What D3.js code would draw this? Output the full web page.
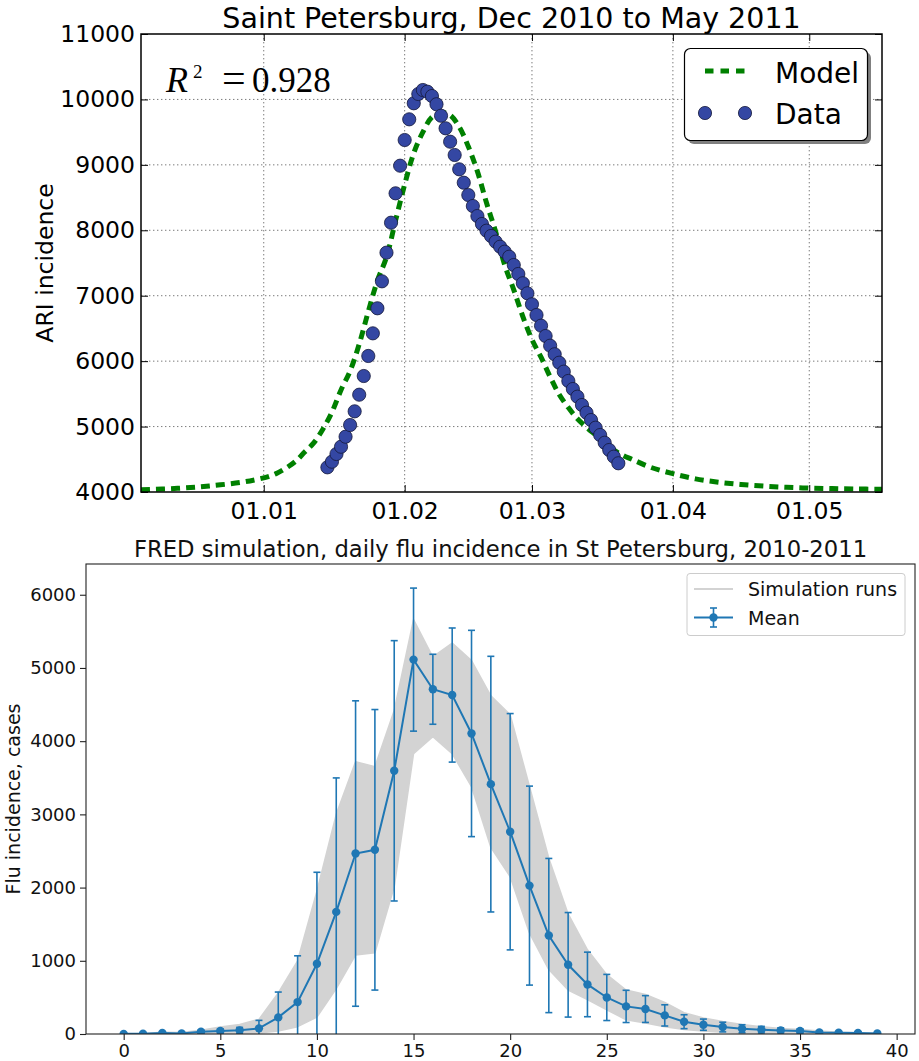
<!DOCTYPE html>
<html>
<head>
<meta charset="utf-8">
<script src="https://cdn.jsdelivr.net/npm/d3@7"></script>
<style>
  body { margin: 0; background: #fff; }
  svg text { font-family: "DejaVu Sans", sans-serif; }
  svg text.tex { font-family: "Liberation Serif", "DejaVu Serif", serif; }
</style>
</head>
<body>
<svg id="chart" width="919" height="1061"></svg>
<script>
//////////////// top panel: ARI incidence, St Petersburg ////////////////

var modelDates = ["2010-12-05", "2010-12-13", "2010-12-20", "2010-12-27", "2010-12-30", "2011-01-02",
  "2011-01-04", "2011-01-06", "2011-01-08", "2011-01-10", "2011-01-12", "2011-01-14", "2011-01-16",
  "2011-01-18", "2011-01-20", "2011-01-22", "2011-01-24", "2011-01-26", "2011-01-28", "2011-01-30",
  "2011-02-01", "2011-02-03", "2011-02-05", "2011-02-07", "2011-02-09", "2011-02-11", "2011-02-13",
  "2011-02-15", "2011-02-17", "2011-02-19", "2011-02-21", "2011-02-23", "2011-02-25", "2011-02-27",
  "2011-03-01", "2011-03-03", "2011-03-05", "2011-03-07", "2011-03-09", "2011-03-11", "2011-03-13",
  "2011-03-15", "2011-03-17", "2011-03-19", "2011-03-21", "2011-03-23", "2011-03-27", "2011-04-01",
  "2011-04-06", "2011-04-11", "2011-04-16", "2011-04-21", "2011-04-26", "2011-05-01", "2011-05-06",
  "2011-05-11", "2011-05-17"];
var modelValues = [4035, 4056, 4092, 4148, 4185, 4235,
  4290, 4370, 4470, 4610, 4750, 4960, 5220,
  5560, 5850, 6260, 6760, 7230, 7590, 8150,
  8700, 9180, 9500, 9730, 9800, 9760, 9580,
  9280, 8900, 8420, 7980, 7470, 7090, 6680,
  6330, 6060, 5760, 5490, 5290, 5120, 4990,
  4870, 4750, 4640, 4560, 4500, 4380, 4280,
  4200, 4150, 4115, 4090, 4072, 4060, 4052,
  4046, 4042];

// daily observations, starting 15 Jan 2011
var dataStart = "2011-01-15";
var dataValues = [4377, 4463, 4581, 4692, 4845, 5024, 5233, 5487, 5773, 6079,
  6425, 6808, 7220, 7658, 8116, 8565, 8987, 9380, 9696, 9941,
  10083, 10144, 10118, 10052, 9926, 9751, 9559, 9354, 9151, 8932,
  8727, 8539, 8371, 8218, 8096, 7994, 7913, 7826, 7749, 7673,
  7596, 7469, 7332, 7190, 7037, 6869, 6705, 6542, 6384, 6236,
  6105, 5976, 5839, 5697, 5574, 5457, 5330, 5212, 5100, 4983,
  4871, 4753, 4642, 4540, 4439];

var topXTicks = ["2011-01-01", "2011-02-01", "2011-03-01", "2011-04-01", "2011-05-01"];
var topYTicks = [4000, 5000, 6000, 7000, 8000, 9000, 10000, 11000];

//////////////// bottom panel: FRED simulation ////////////////

var weeks = d3.range(0, 40);
var meanValues = [2, 4, 15, 8, 30, 40, 50, 77, 227, 436,
  959, 1668, 2465, 2516, 3595, 5114, 4709, 4630, 4105, 3413,
  2763, 2027, 1345, 945, 677, 499, 377, 341, 254, 168,
  127, 95, 72, 59, 49, 41, 22, 18, 14, 8];
var stdValues = [3, 4, 10, 8, 20, 30, 40, 109, 346, 632,
  1250, 1830, 2086, 1916, 1778, 977, 478, 916, 1409, 1746,
  1614, 1359, 1053, 714, 441, 315, 220, 183, 145, 95,
  77, 66, 55, 45, 35, 30, 20, 15, 12, 8];
// spread of the simulation runs (highest / lowest run each week)
var runsMax = [5, 8, 25, 20, 50, 95, 130, 200, 560, 1000,
  1950, 3000, 3720, 3650, 4420, 5660, 5150, 5340, 5100, 4620,
  4360, 3380, 2400, 1640, 1150, 810, 600, 540, 430, 290,
  220, 170, 130, 100, 75, 60, 40, 25, 18, 12];
var runsMin = [0, 0, 0, 0, 5, 8, 12, 15, 40, 100,
  230, 620, 1080, 1110, 2010, 3830, 4060, 3830, 3380, 2550,
  2150, 1380, 880, 600, 470, 330, 195, 150, 100, 63,
  40, 25, 15, 10, 5, 3, 2, 1, 0, 0];

var bottomXTicks = [0, 5, 10, 15, 20, 25, 30, 35, 40];
var bottomYTicks = [0, 1000, 2000, 3000, 4000, 5000, 6000];


var parseDate = d3.utcParse("%Y-%m-%d");
var svg = d3.select("svg#chart");

function drawTop() {
  var m = {left: 141, right: 882, top: 34, bottom: 492};

  var xScale = d3.scaleUtc()
    .domain([parseDate("2010-12-05"), parseDate("2011-05-17")])
    .range([m.left, m.right]);
  var yScale = d3.scaleLinear()
    .domain([4000, 11000])
    .range([m.bottom, m.top]);

  var g = svg.append("g").attr("class", "topPanel");

  g.append("clipPath").attr("id", "clipTop")
    .append("rect")
    .attr("x", m.left).attr("y", m.top)
    .attr("width", m.right - m.left).attr("height", m.bottom - m.top);

  var xt = topXTicks.map(parseDate);

  // dotted grid
  g.append("g").selectAll("line.gx").data(xt).enter().append("line")
    .attr("x1", function(d) { return xScale(d); }).attr("x2", function(d) { return xScale(d); })
    .attr("y1", m.top).attr("y2", m.bottom)
    .style("stroke", "#7a7a7a").style("stroke-width", 1).style("stroke-dasharray", "1.4,2.6");
  g.append("g").selectAll("line.gy").data(topYTicks.slice(1, -1)).enter().append("line")
    .attr("x1", m.left).attr("x2", m.right)
    .attr("y1", function(d) { return yScale(d); }).attr("y2", function(d) { return yScale(d); })
    .style("stroke", "#7a7a7a").style("stroke-width", 1).style("stroke-dasharray", "1.4,2.6");

  // axes, classic style ticks inward on all four sides
  var fmt = d3.utcFormat("%d.%m");
  g.append("g").attr("class", "axis axis--x")
    .attr("transform", "translate(0," + m.bottom + ")")
    .call(d3.axisBottom(xScale).tickValues(xt).tickFormat(fmt).tickSizeInner(-7).tickSizeOuter(0).tickPadding(10));
  g.append("g")
    .attr("transform", "translate(0," + m.top + ")")
    .call(d3.axisTop(xScale).tickValues(xt).tickFormat("").tickSizeInner(-7).tickSizeOuter(0));
  g.append("g").attr("class", "axis axis--y")
    .attr("transform", "translate(" + m.left + ",0)")
    .call(d3.axisLeft(yScale).tickValues(topYTicks).tickFormat(d3.format("d")).tickSizeInner(-7).tickSizeOuter(0).tickPadding(6));
  g.append("g")
    .attr("transform", "translate(" + m.right + ",0)")
    .call(d3.axisRight(yScale).tickValues(topYTicks).tickFormat("").tickSizeInner(-7).tickSizeOuter(0));

  g.selectAll(".tick text").style("font-size", "23.5px").style("fill", "#000")
    .style("font-family", "'DejaVu Sans', sans-serif");
  g.selectAll(".tick line").style("stroke", "#000").style("stroke-width", 1);
  g.selectAll(".domain").remove();

  // model
  var model = modelDates.map(function(d, i) { return {date: parseDate(d), v: modelValues[i]}; });
  var line = d3.line()
    .x(function(d) { return xScale(d.date); })
    .y(function(d) { return yScale(d.v); })
    .curve(d3.curveCatmullRom.alpha(0.5));
  g.append("path")
    .datum(model)
    .attr("clip-path", "url(#clipTop)")
    .attr("d", line)
    .style("fill", "none").style("stroke", "#008000")
    .style("stroke-width", 5).style("stroke-dasharray", "9,6");

  // data points
  var start = parseDate(dataStart);
  var obs = dataValues.map(function(v, i) { return {date: d3.utcDay.offset(start, i), v: v}; });
  g.append("g").selectAll("circle").data(obs).enter().append("circle")
    .attr("cx", function(d) { return xScale(d.date); })
    .attr("cy", function(d) { return yScale(d.v); })
    .attr("r", 6.6)
    .style("fill", "#3447a3").style("stroke", "#14183a").style("stroke-width", 0.8);

  // frame
  g.append("rect")
    .attr("x", m.left).attr("y", m.top)
    .attr("width", m.right - m.left).attr("height", m.bottom - m.top)
    .style("fill", "none").style("stroke", "#000").style("stroke-width", 1.5);

  // title and labels
  g.append("text")
    .attr("x", (m.left + m.right) / 2).attr("y", 28)
    .attr("text-anchor", "middle")
    .style("font-size", "28.5px")
    .text("Saint Petersburg, Dec 2010 to May 2011");
  g.append("text")
    .attr("transform", "rotate(-90)")
    .attr("x", -(m.top + m.bottom) / 2).attr("y", 53)
    .attr("text-anchor", "middle")
    .style("font-size", "23.5px")
    .text("ARI incidence");

  // R^2 annotation (math text)
  var r2 = g.append("g");
  r2.append("text").attr("class", "tex").attr("x", 166).attr("y", 92)
    .style("font-size", "36px").style("font-style", "italic").text("R");
  r2.append("text").attr("class", "tex").attr("x", 193).attr("y", 78)
    .style("font-size", "19px").text("2");
  r2.append("text").attr("class", "tex").attr("x", 222).attr("y", 92)
    .style("font-size", "42px").text("=");
  r2.append("text").attr("class", "tex").attr("x", 252).attr("y", 92)
    .style("font-size", "35px").text("0.928");

  // legend with shadow
  var lg = g.append("g").attr("class", "legend");
  lg.append("rect").attr("x", 688).attr("y", 52).attr("width", 183).attr("height", 92).attr("rx", 6)
    .style("fill", "#808080");
  lg.append("rect").attr("x", 684.5).attr("y", 48.5).attr("width", 183).attr("height", 92).attr("rx", 6)
    .style("fill", "#fff").style("stroke", "#000").style("stroke-width", 1.2);
  lg.append("line").attr("x1", 705).attr("x2", 746).attr("y1", 71).attr("y2", 71)
    .style("stroke", "#008000").style("stroke-width", 5).style("stroke-dasharray", "8.5,7");
  lg.selectAll("circle").data([705, 745]).enter().append("circle")
    .attr("cx", function(d) { return d; }).attr("cy", 113).attr("r", 6.6)
    .style("fill", "#3447a3").style("stroke", "#14183a").style("stroke-width", 0.8);
  lg.append("text").attr("x", 775).attr("y", 83).style("font-size", "28px").text("Model");
  lg.append("text").attr("x", 775).attr("y", 124).style("font-size", "28px").text("Data");
}

function drawBottom() {
  var m = {left: 86, right: 915, top: 564, bottom: 1034};
  var blue = "#1f77b4";

  var xScale = d3.scaleLinear().domain([-1.95, 40.95]).range([m.left, m.right]);
  var yScale = d3.scaleLinear().domain([0, 6420]).range([m.bottom, m.top]);

  var g = svg.append("g").attr("class", "bottomPanel");

  g.append("clipPath").attr("id", "clipBottom")
    .append("rect")
    .attr("x", m.left).attr("y", m.top)
    .attr("width", m.right - m.left).attr("height", m.bottom - m.top);

  var inner = g.append("g").attr("clip-path", "url(#clipBottom)");

  // band covered by the simulation runs
  var runs = weeks.map(function(w, i) { return {x: w, lo: runsMin[i], hi: runsMax[i]}; });
  var area = d3.area()
    .x(function(d) { return xScale(d.x); })
    .y0(function(d) { return yScale(d.lo); })
    .y1(function(d) { return yScale(d.hi); });
  inner.append("path").datum(runs).attr("d", area)
    .style("fill", "#d3d3d3").style("stroke", "#d3d3d3").style("stroke-width", 1.5)
    .style("stroke-linejoin", "round");

  // error bars (mean +- std)
  var stats = weeks.map(function(w, i) { return {x: w, mean: meanValues[i], sd: stdValues[i]}; });
  var eb = inner.append("g").selectAll("g.eb").data(stats).enter().append("g").attr("class", "eb");
  eb.append("line")
    .attr("x1", function(d) { return xScale(d.x); }).attr("x2", function(d) { return xScale(d.x); })
    .attr("y1", function(d) { return yScale(d.mean - d.sd); })
    .attr("y2", function(d) { return yScale(d.mean + d.sd); })
    .style("stroke", blue).style("stroke-width", 1.6);
  [-1, 1].forEach(function(s) {
    eb.append("line")
      .attr("x1", function(d) { return xScale(d.x) - 3.5; }).attr("x2", function(d) { return xScale(d.x) + 3.5; })
      .attr("y1", function(d) { return yScale(d.mean + s * d.sd); })
      .attr("y2", function(d) { return yScale(d.mean + s * d.sd); })
      .style("stroke", blue).style("stroke-width", 1.6);
  });

  // mean line
  inner.append("path").datum(stats)
    .attr("d", d3.line().x(function(d) { return xScale(d.x); }).y(function(d) { return yScale(d.mean); }))
    .style("fill", "none").style("stroke", blue).style("stroke-width", 2);
  inner.append("g").selectAll("circle").data(stats).enter().append("circle")
    .attr("cx", function(d) { return xScale(d.x); })
    .attr("cy", function(d) { return yScale(d.mean); })
    .attr("r", 4.2)
    .style("fill", blue);

  // axes
  g.append("g").attr("class", "axis axis--x")
    .attr("transform", "translate(0," + m.bottom + ")")
    .call(d3.axisBottom(xScale).tickValues(bottomXTicks).tickFormat(d3.format("d"))
      .tickSizeInner(6).tickSizeOuter(0).tickPadding(4));
  g.append("g").attr("class", "axis axis--y")
    .attr("transform", "translate(" + m.left + ",0)")
    .call(d3.axisLeft(yScale).tickValues(bottomYTicks).tickFormat(d3.format("d"))
      .tickSizeInner(6).tickSizeOuter(0).tickPadding(4));
  g.selectAll(".tick text").style("font-size", "18px").style("fill", "#111")
    .style("font-family", "'DejaVu Sans', sans-serif");
  g.selectAll(".tick line").style("stroke", "#222").style("stroke-width", 1.1);
  g.selectAll(".domain").remove();

  g.append("rect")
    .attr("x", m.left).attr("y", m.top)
    .attr("width", m.right - m.left).attr("height", m.bottom - m.top)
    .style("fill", "none").style("stroke", "#222").style("stroke-width", 1.1);

  g.append("text")
    .attr("x", (m.left + m.right) / 2).attr("y", 557)
    .attr("text-anchor", "middle")
    .style("font-size", "22.7px").style("fill", "#111")
    .text("FRED simulation, daily flu incidence in St Petersburg, 2010-2011");
  g.append("text")
    .attr("transform", "rotate(-90)")
    .attr("x", -(m.top + m.bottom) / 2).attr("y", 20)
    .attr("text-anchor", "middle")
    .style("font-size", "19px").style("fill", "#111")
    .text("Flu incidence, cases");

  // legend
  var lg = g.append("g").attr("class", "legend");
  lg.append("rect").attr("x", 687).attr("y", 573.5).attr("width", 218).attr("height", 62).attr("rx", 3)
    .style("fill", "#fff").style("fill-opacity", 0.8).style("stroke", "#cccccc").style("stroke-width", 1);
  lg.append("line").attr("x1", 694).attr("x2", 733).attr("y1", 589).attr("y2", 589)
    .style("stroke", "#d3d3d3").style("stroke-width", 2);
  lg.append("line").attr("x1", 694).attr("x2", 733).attr("y1", 617.5).attr("y2", 617.5)
    .style("stroke", blue).style("stroke-width", 2);
  lg.append("line").attr("x1", 713.5).attr("x2", 713.5).attr("y1", 608).attr("y2", 627)
    .style("stroke", blue).style("stroke-width", 1.6);
  [608, 627].forEach(function(yy) {
    lg.append("line").attr("x1", 710).attr("x2", 717).attr("y1", yy).attr("y2", yy)
      .style("stroke", blue).style("stroke-width", 1.6);
  });
  lg.append("circle").attr("cx", 713.5).attr("cy", 617.5).attr("r", 4.2).style("fill", blue);
  lg.append("text").attr("x", 748).attr("y", 596).style("font-size", "19px").style("fill", "#111").text("Simulation runs");
  lg.append("text").attr("x", 748).attr("y", 624.5).style("font-size", "19px").style("fill", "#111").text("Mean");
}

drawTop();
drawBottom();
</script>
</body>
</html>
